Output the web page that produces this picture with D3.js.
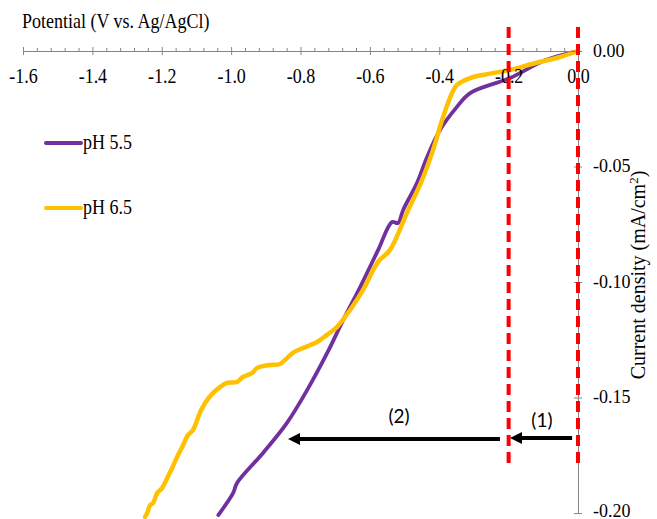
<!DOCTYPE html>
<html>
<head>
<meta charset="utf-8">
<script src="https://cdn.jsdelivr.net/npm/d3@7"></script>
<style>
  body { margin: 0; background: #fff; }
</style>
</head>
<body>
<svg id="chart" width="657" height="519"></svg>
<script>
// potential (V vs Ag/AgCl), current density (mA/cm2)
const pH55 = [
  [0, 0], [-0.095, -0.0040], [-0.196, -0.0117], [-0.311, -0.0182], [-0.349, -0.0242],
  [-0.398, -0.0342], [-0.435, -0.0459], [-0.464, -0.0571], [-0.504, -0.0688],
  [-0.519, -0.0745], [-0.536, -0.0740], [-0.576, -0.0861], [-0.628, -0.1022],
  [-0.677, -0.1165], [-0.723, -0.1307], [-0.781, -0.1468], [-0.839, -0.1610],
  [-0.908, -0.1740], [-0.983, -0.1870], [-0.994, -0.1913], [-1.037, -0.2009]
];
const pH65 = [
  [0, 0], [-0.052, -0.0026], [-0.130, -0.0055], [-0.196, -0.0082], [-0.262, -0.0100],
  [-0.311, -0.0117], [-0.349, -0.0147], [-0.363, -0.0182], [-0.389, -0.0286],
  [-0.418, -0.0429], [-0.450, -0.0560], [-0.493, -0.0700], [-0.542, -0.0861],
  [-0.5765, -0.0913], [-0.620, -0.1035], [-0.657, -0.1121], [-0.695, -0.1195],
  [-0.724, -0.1229], [-0.752, -0.1260], [-0.793, -0.1286], [-0.822, -0.1307],
  [-0.845, -0.1338], [-0.859, -0.1355], [-0.888, -0.1359], [-0.908, -0.1364],
  [-0.925, -0.1372], [-0.940, -0.1394], [-0.966, -0.1411], [-0.983, -0.1433],
  [-1.012, -0.1437], [-1.032, -0.1455], [-1.052, -0.1480], [-1.075, -0.1524],
  [-1.089, -0.1563], [-1.110, -0.1641], [-1.124, -0.1662], [-1.141, -0.1714],
  [-1.156, -0.1758], [-1.170, -0.1805], [-1.184, -0.1848], [-1.199, -0.1892],
  [-1.213, -0.1913], [-1.225, -0.1957], [-1.233, -0.1965], [-1.242, -0.2000],
  [-1.248, -0.2017]
];

const xMajor = [-1.6, -1.4, -1.2, -1.0, -0.8, -0.6, -0.4, -0.2, 0.0];
const xTickLabels = ["-1.6", "-1.4", "-1.2", "-1.0", "-0.8", "-0.6", "-0.4", "-0.2", "0.0"];
const yMajor = [0, -0.05, -0.10, -0.15, -0.20];
const yTickLabels = ["0.00", "-0.05", "-0.10", "-0.15", "-0.20"];
const markerLines = [-0.2, 0.0];
const arrows = [
  { label: "(1)", from: -0.017, to: -0.196, y: -0.1675, labelX: -0.104, labelY: -0.1628 },
  { label: "(2)", from: -0.225, to: -0.836, y: -0.1680, labelX: -0.516, labelY: -0.1610 }
];
const legendItems = [
  { label: "pH 5.5", color: "#7030a0" },
  { label: "pH 6.5", color: "#ffc000" }
];

const serif = "'Liberation Serif', 'Times New Roman', 'DejaVu Serif', serif";
const svg = d3.select("#chart");
const axisColor = "#868686";
const stretch = 1.15; // text in the reference looks a bit tall

const x = d3.scaleLinear().domain([-1.6, 0]).range([23, 578]);
const y = d3.scaleLinear().domain([-0.2, 0]).range([513, 51]);

const line = d3.line()
  .x(d => x(d[0]))
  .y(d => y(d[1]))
  .curve(d3.curveCatmullRom.alpha(0.5));

// curves
svg.append("path").datum(pH55)
  .attr("fill", "none").attr("stroke", "#7030a0")
  .attr("stroke-width", 3.8).attr("stroke-linejoin", "round").attr("stroke-linecap", "round")
  .attr("d", line);
svg.append("path").datum(pH65)
  .attr("fill", "none").attr("stroke", "#ffc000")
  .attr("stroke-width", 4.5).attr("stroke-linejoin", "round").attr("stroke-linecap", "round")
  .attr("d", line);

// x axis (crossing ticks + minor ticks)
const minor = d3.range(-1.6, 0.001, 0.04).filter(v => Math.abs(Math.round(v * 5) - v * 5) > 0.01);
svg.append("g").attr("transform", `translate(0,${y(0)})`)
  .call(d3.axisTop(x).tickValues(minor).tickSize(3).tickSizeOuter(0).tickFormat(""));
svg.append("g").attr("transform", `translate(0,${y(0)})`)
  .call(d3.axisTop(x).tickValues(xMajor).tickSize(4).tickSizeOuter(0).tickFormat(""));
const gx = svg.append("g").attr("transform", `translate(0,${y(0)})`)
  .call(d3.axisBottom(x).tickValues(xMajor).tickSize(4).tickSizeOuter(0)
    .tickFormat((d, i) => xTickLabels[i]));
gx.selectAll("text")
  .attr("y", 0).attr("dy", null)
  .attr("transform", `translate(0,32) scale(1,${stretch})`);

// y axis at x = 0
svg.append("g").attr("transform", `translate(${x(0)},0)`)
  .call(d3.axisLeft(y).tickValues(yMajor).tickSize(4).tickSizeOuter(0).tickFormat(""));
const gy = svg.append("g").attr("transform", `translate(${x(0)},0)`)
  .call(d3.axisRight(y).tickValues(yMajor).tickSize(4).tickSizeOuter(0)
    .tickFormat((d, i) => yTickLabels[i]));
gy.selectAll("text")
  .attr("x", 0).attr("y", 0).attr("dy", null)
  .attr("transform", (d, i) => `translate(15,${i === yMajor.length - 1 ? 3 : 5}) scale(1,1.05)`);

svg.selectAll("g").attr("font-family", null).attr("font-size", null);
svg.selectAll(".domain, .tick line").attr("stroke", axisColor);
svg.selectAll(".tick text")
  .attr("fill", "#000")
  .style("font-family", serif)
  .style("font-size", "18px");

// red dashed guide lines
svg.append("g").selectAll("line")
  .data(markerLines)
  .join("line")
  .attr("x1", d => x(d)).attr("x2", d => x(d))
  .attr("y1", 27).attr("y2", 465)
  .attr("stroke", "#ff0000").attr("stroke-width", 4)
  .attr("stroke-dasharray", "11,6");

// arrows
const head = 12, halfW = 6;
const ga = svg.append("g").selectAll("g").data(arrows).join("g");
ga.append("line")
  .attr("x1", d => x(d.from)).attr("x2", d => x(d.to) + head - 1)
  .attr("y1", d => y(d.y)).attr("y2", d => y(d.y))
  .attr("stroke", "#000").attr("stroke-width", 4);
ga.append("path")
  .attr("fill", "#000")
  .attr("d", d => {
    const tx = x(d.to), ty = y(d.y);
    return `M${tx},${ty}L${tx + head},${ty - halfW}L${tx + head},${ty + halfW}Z`;
  });
ga.append("text")
  .attr("x", d => x(d.labelX)).attr("y", d => y(d.labelY))
  .attr("text-anchor", "middle")
  .style("font-family", "Lato, 'Open Sans', sans-serif")
  .style("font-size", "19px")
  .text(d => d.label);

// legend
const lg = svg.append("g").selectAll("g").data(legendItems).join("g")
  .attr("transform", (d, i) => `translate(46,${143 + i * 65})`);
lg.append("line")
  .attr("x1", 0).attr("x2", 35).attr("y1", 0).attr("y2", 0)
  .attr("stroke", d => d.color).attr("stroke-width", 4).attr("stroke-linecap", "round");
lg.append("text")
  .attr("transform", `translate(37,6) scale(1,${stretch})`)
  .style("font-family", serif)
  .style("font-size", "18px")
  .text(d => d.label);

// axis titles
svg.append("text")
  .attr("transform", `translate(22,28) scale(1,${stretch})`)
  .style("font-family", serif)
  .style("font-size", "18px")
  .text("Potential (V vs. Ag/AgCl)");

const yt = svg.append("text")
  .attr("transform", "translate(645,275) rotate(-90)")
  .attr("text-anchor", "middle")
  .style("font-family", serif)
  .style("font-size", "20px");
yt.append("tspan").text("Current density (mA/cm");
yt.append("tspan").attr("dy", -7).style("font-size", "13px").text("2");
yt.append("tspan").attr("dy", 7).text(")");
</script>
</body>
</html>
